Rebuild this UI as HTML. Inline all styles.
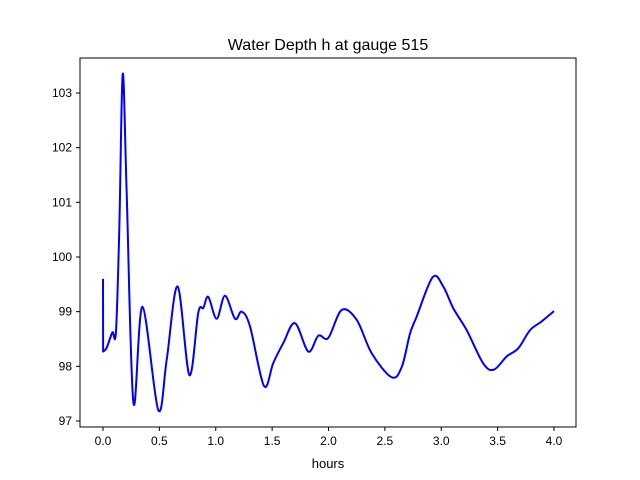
<!DOCTYPE html>
<html><head><meta charset="utf-8"><style>
body{margin:0;background:#fff}
svg{display:block;font-family:"Liberation Sans","DejaVu Sans",sans-serif}
</style></head><body>
<svg width="640" height="480">
<rect width="640" height="480" fill="#fff"/>
<text x="328" y="50" font-size="16" text-anchor="middle">Water Depth h at gauge 515</text>
<g id="axes"></g>
<path id="line" fill="none" stroke="#0000ff" stroke-width="2" stroke-linejoin="round"/>
<rect x="80" y="58" width="496" height="369" fill="none" stroke="#000" stroke-width="1"/>
<text x="328" y="468" font-size="13" text-anchor="middle">hours</text>
</svg>
<script>
const hours=[0,0.001,0.033,0.083,0.115,0.145,0.175,0.21,0.27,0.35,0.49,0.565,0.662,0.766,0.845,0.89,0.934,1.008,1.082,1.171,1.23,1.304,1.428,1.51,1.6,1.703,1.821,1.91,1.998,2.117,2.25,2.383,2.56,2.65,2.723,2.782,2.924,3.018,3.107,3.226,3.373,3.468,3.58,3.683,3.787,3.89,4.0];
const depth=[99.6,98.27,98.34,98.62,98.63,100.55,103.35,101.17,97.33,99.09,97.2,98.12,99.46,97.84,98.98,99.07,99.27,98.87,99.29,98.87,99.0,98.73,97.64,98.06,98.43,98.79,98.27,98.56,98.52,99.03,98.85,98.24,97.8,97.99,98.6,98.91,99.63,99.46,99.06,98.66,98.05,97.94,98.18,98.33,98.66,98.82,99.01];
const xTicks=[0,0.5,1,1.5,2,2.5,3,3.5,4];
const xLabels=["0.0","0.5","1.0","1.5","2.0","2.5","3.0","3.5","4.0"];
const yTicks=[97,98,99,100,101,102,103];
const yLabels=["97","98","99","100","101","102","103"];
const X=v=>103+v*112.75, Y=v=>421-(v-97)*54.67;
const ns="http://www.w3.org/2000/svg", ax=document.getElementById('axes');
function mk(t,a){const e=document.createElementNS(ns,t);for(const k in a)e.setAttribute(k,a[k]);ax.appendChild(e);return e;}
xTicks.forEach((v,i)=>{
 const l=mk('line',{x1:X(v),x2:X(v),y1:427,y2:431,stroke:'#000'});
 
 
 const t=mk('text',{x:X(v),y:445,'font-size':12,'text-anchor':'middle'});t.textContent=xLabels[i];
 
 
});
yTicks.forEach((v,i)=>{
 const l=mk('line',{x1:76,x2:80,y1:Y(v),y2:Y(v),stroke:'#000'});
 
 
 const t=mk('text',{x:72,y:Y(v)+4,'font-size':12,'text-anchor':'end'});t.textContent=yLabels[i];
 
 
});
const P=hours.map((h,i)=>[X(h),Y(depth[i])]);
let d=`M${P[0][0]},${P[0][1]} L${P[1][0]},${P[1][1]}`;
for(let i=1;i<P.length-1;i++){
 const p0=P[Math.max(1,i-1)],p1=P[i],p2=P[i+1],p3=P[Math.min(P.length-1,i+2)];
 const c1=[p1[0]+(p2[0]-p0[0])/6,p1[1]+(p2[1]-p0[1])/6],c2=[p2[0]-(p3[0]-p1[0])/6,p2[1]-(p3[1]-p1[1])/6];
 d+=` C${c1[0]},${c1[1]} ${c2[0]},${c2[1]} ${p2[0]},${p2[1]}`;
}
document.getElementById('line').setAttribute('d',d);
</script>
</body></html>
